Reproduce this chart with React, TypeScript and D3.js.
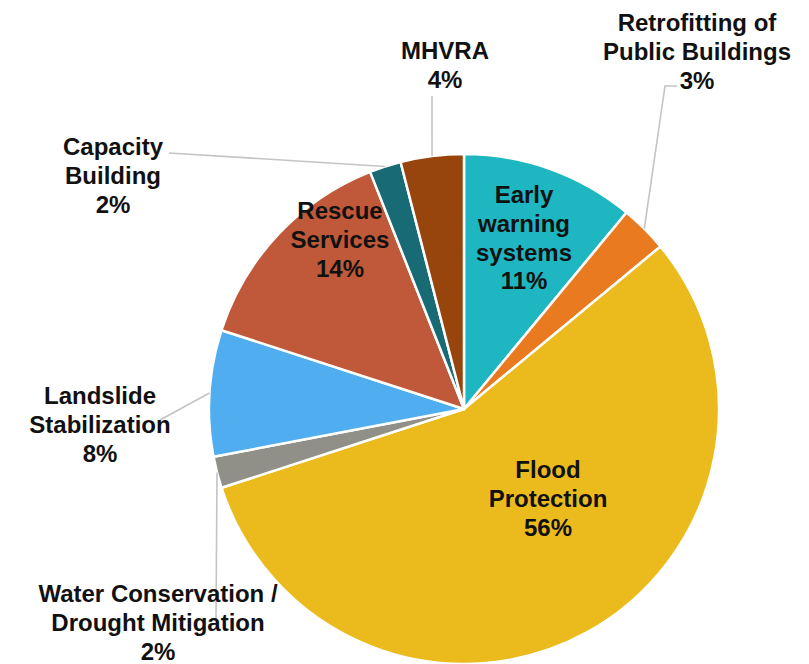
import React, { useEffect, useRef } from 'react';
import * as d3 from 'd3';

// categories, clockwise from 12 o'clock
const categories = [
  'Early warning systems',
  'Retrofitting of Public Buildings',
  'Flood Protection',
  'Water Conservation / Drought Mitigation',
  'Landslide Stabilization',
  'Rescue Services',
  'Capacity Building',
  'MHVRA'
];
const shares = [11, 3, 56, 2, 8, 14, 2, 4];
const labelLines = [
  ['Early', 'warning', 'systems'],
  ['Retrofitting of', 'Public Buildings'],
  ['Flood', 'Protection'],
  ['Water Conservation /', 'Drought Mitigation'],
  ['Landslide', 'Stabilization'],
  ['Rescue', 'Services'],
  ['Capacity', 'Building'],
  ['MHVRA']
];
const colors = ['#1db6c1', '#e97a20', '#ebbb1e', '#909088', '#50aef0', '#c0593a', '#186a74', '#98450d'];

// label placement (center x, first baseline) and leader line bends
const labelLayout: Record<string, { x: number; y: number; leader?: [number, number][] }> = {
  'Early warning systems': { x: 524, y: 203 },
  'Retrofitting of Public Buildings': { x: 697, y: 31, leader: [[665, 86], [677, 86]] },
  'Flood Protection': { x: 548, y: 478 },
  'Water Conservation / Drought Mitigation': { x: 158, y: 602, leader: [[216, 620]] },
  'Landslide Stabilization': { x: 100, y: 404, leader: [[160, 420]] },
  'Rescue Services': { x: 340, y: 219 },
  'Capacity Building': { x: 113, y: 155, leader: [[169, 153]] },
  'MHVRA': { x: 445, y: 59, leader: [[432, 96]] }
};

const W = 809;
const H = 664;
const cx = 464;
const cy = 409;
const R = 255;
const lineH = 28.8;

export default function App() {
  const svgRef = useRef<SVGSVGElement>(null);

  useEffect(() => {
    const svg = d3.select(svgRef.current);
    svg.selectAll('*').remove();

    const data = categories.map((c, i) => ({ name: c, value: shares[i], lines: labelLines[i], color: colors[i] }));

    const pie = d3.pie<any>().sort(null).value(d => d.value).startAngle(0).endAngle(2 * Math.PI);
    const arcs = pie(data);
    const arc = d3.arc<any>().innerRadius(0).outerRadius(R);
    const edge = d3.arc<any>().innerRadius(R).outerRadius(R);

    const g = svg.append('g').attr('transform', `translate(${cx},${cy})`);

    // leader lines first so text sits above them
    const lg = svg.append('g');
    arcs.forEach(a => {
      const lay = labelLayout[a.data.name];
      if (!lay.leader) return;
      const [ex, ey] = edge.centroid(a);
      const pts: [number, number][] = [[cx + ex, cy + ey], ...lay.leader];
      lg.append('path')
        .attr('d', d3.line()(pts))
        .attr('fill', 'none')
        .attr('stroke', '#c4c4c4')
        .attr('stroke-width', 1.6);
    });

    g.selectAll('path.slice')
      .data(arcs)
      .enter()
      .append('path')
      .attr('class', 'slice')
      .attr('d', arc)
      .attr('fill', d => d.data.color)
      .attr('stroke', '#fff')
      .attr('stroke-width', 2.5)
      .attr('stroke-linejoin', 'round');

    const tg = svg.append('g')
      .style('font-family', '"Liberation Sans", Arial, sans-serif')
      .style('font-weight', 'bold')
      .style('font-size', '24px')
      .attr('fill', '#111');

    arcs.forEach(a => {
      const lay = labelLayout[a.data.name];
      const lines = [...a.data.lines, `${a.data.value}%`];
      const t = tg.append('text').attr('text-anchor', 'middle');
      lines.forEach((s, i) => {
        t.append('tspan')
          .attr('x', lay.x)
          .attr('y', lay.y + i * lineH)
          .text(s);
      });
    });
  }, []);

  return (
    <svg
      ref={svgRef}
      width={W}
      height={H}
      style={{ position: 'absolute', left: 0, top: 0, background: '#fff' }}
    />
  );
}
